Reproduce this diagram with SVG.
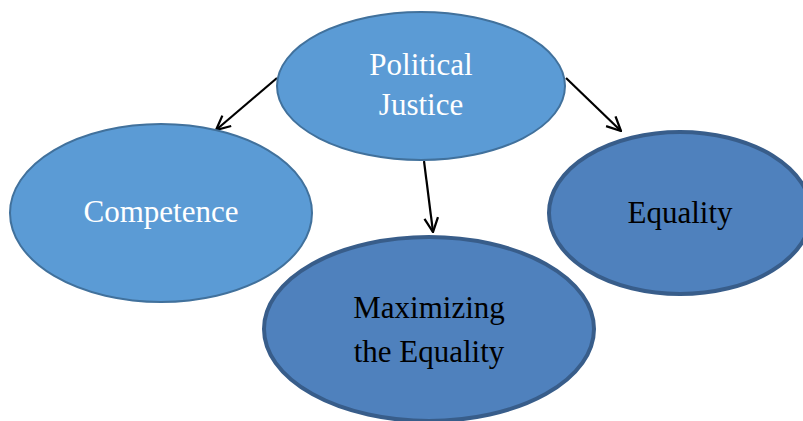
<svg xmlns="http://www.w3.org/2000/svg" width="803" height="421" viewBox="0 0 803 421">
<style>
.light{fill:#5b9bd5;stroke:#41719c;stroke-width:2}
.dark{fill:#4f81bd;stroke:#385d8a;stroke-width:4}
.t{font-family:"Liberation Serif","Times New Roman",serif;font-size:31px;text-anchor:middle}
.w{fill:#ffffff}
.b{fill:#000000}
.c{stroke:#000;stroke-width:2.2;fill:none}
</style>
<defs>
<marker id="ah" viewBox="0 0 12 12" refX="11" refY="6" markerWidth="17" markerHeight="17" markerUnits="userSpaceOnUse" orient="auto">
<path d="M1,1.2 L11,6 L1,10.8" fill="none" stroke="#000" stroke-width="1.6"/>
</marker>
</defs>
<rect width="803" height="421" fill="#ffffff"/>
<g id="connectors">
<line class="c" x1="277" y1="78" x2="216" y2="130" marker-end="url(#ah)"/>
<line class="c" x1="566" y1="78" x2="621" y2="131" marker-end="url(#ah)"/>
<line class="c" x1="424" y1="161" x2="433" y2="232" marker-end="url(#ah)"/>
</g>
<g id="political-justice">
<ellipse class="light" cx="421" cy="86" rx="144" ry="74"/>
<text class="t w" x="421" y="75">Political</text>
<text class="t w" x="421" y="115">Justice</text>
</g>
<g id="competence">
<ellipse class="light" cx="161" cy="213" rx="151" ry="89"/>
<text class="t w" x="161" y="222">Competence</text>
</g>
<g id="equality">
<ellipse class="dark" cx="680" cy="213" rx="131" ry="81"/>
<text class="t b" x="680" y="223">Equality</text>
</g>
<g id="maximizing">
<ellipse class="dark" cx="429" cy="329" rx="165" ry="92"/>
<text class="t b" x="429" y="318">Maximizing</text>
<text class="t b" x="429" y="362">the Equality</text>
</g>
</svg>
